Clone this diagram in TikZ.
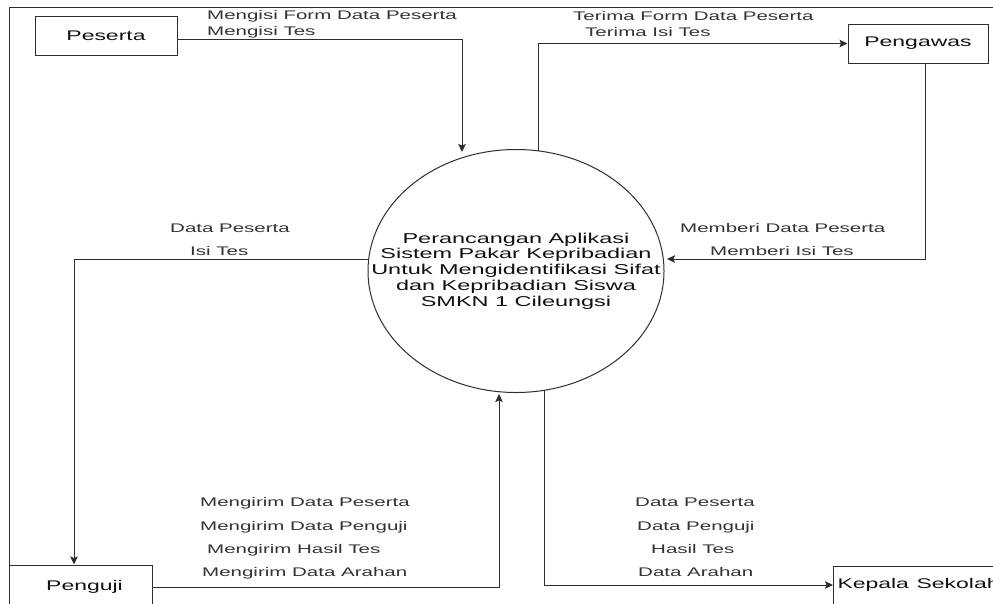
\documentclass[tikz,border=0pt]{standalone}
\usepackage{fontspec}
\setmainfont{Liberation Sans}
\usetikzlibrary{shapes.geometric,arrows.meta}
\definecolor{linegray}{HTML}{2E2E2E}
\definecolor{labelgray}{HTML}{333333}
\definecolor{textdark}{HTML}{111111}
\newcommand{\hstretch}[1]{\scalebox{1.64}[1]{#1}}
\newcommand{\lblfont}{\fontsize{12.5}{15}\selectfont}
\newcommand{\entfont}{\fontsize{14}{16}\selectfont}
\tikzset{
  ent/.style={draw=linegray, line width=1pt, rectangle, inner sep=0pt, text=textdark, font=\entfont},
  lbl/.style={anchor=base west, inner sep=0pt, text=labelgray, font=\lblfont},
  flow/.style={draw=linegray, line width=1pt, -{Stealth[length=8pt,width=7.5pt,inset=1.5pt]}},
  frameline/.style={draw=linegray, line width=1pt}
}
\begin{document}
\begin{tikzpicture}[x=1pt,y=-1pt]
\useasboundingbox (0,0) rectangle (993,603);
\clip (0,0) rectangle (993,603);
\fill[white] (0,0) rectangle (993,603);
% frame
\draw[frameline] (9,610) -- (9,7) -- (1000,7);
% entities
\node[ent, minimum width=142pt, minimum height=39pt] (peserta) at (106,35.5) {\hstretch{Peserta}};
\node[ent, minimum width=140pt, minimum height=39pt] (pengawas) at (918,43.5) {\hstretch{Pengawas}};
\node[ent, minimum width=143pt, minimum height=44pt] (penguji) at (80.5,587) {\hspace{8pt}\hstretch{Penguji}};
\node[ent, anchor=west, inner xsep=4pt, text width=172pt, align=left, minimum height=38pt] (kepala) at (833,585) {\hstretch{Kepala Sekolah}};
% process
\node[ellipse, draw=linegray, line width=1pt, minimum width=296pt, minimum height=243pt, inner sep=0pt] (proc) at (516,271) {};
\node[inner sep=0pt, text=textdark] (proctext) at (516,271.5) {\fontsize{14.3}{15.8}\selectfont\hstretch{\begin{tabular}{@{}c@{}}Perancangan Aplikasi\\ Sistem Pakar Kepribadian\\ Untuk Mengidentifikasi Sifat\\ dan Kepribadian Siswa\\ SMKN 1 Cileungsi\end{tabular}}};
% connector end points on the process border
\coordinate (pin1) at (462,152);
\coordinate (pout1) at (538,151);
\coordinate (pin2) at (667,259);
\coordinate (pout2) at (369,259);
\coordinate (pin3) at (499,394);
\coordinate (pout3) at (544,390);
% connectors
\draw[flow] ([yshift=-3.5pt]peserta.east) -| (pin1);
\draw[flow] (pout1) |- (pengawas.west);
\draw[flow] ([xshift=7pt]pengawas.south) |- (pin2);
\draw[flow] (pout2) -| ([xshift=-6.5pt]penguji.north);
\draw[flow] (penguji.east) -| (pin3);
\draw[flow] (pout3) |- (kepala.west);
% labels
\node[lbl] (l1a) at (207,19.3) {\hstretch{Mengisi Form Data Peserta}};
\node[lbl] (l1b) at (207,35) {\hstretch{Mengisi Tes}};
\node[lbl] (l2a) at (573,20) {\hstretch{Terima Form Data Peserta}};
\node[lbl] (l2b) at (585,36) {\hstretch{Terima Isi Tes}};
\node[lbl] (l3a) at (680,232.7) {\hstretch{Memberi Data Peserta}};
\node[lbl] (l3b) at (710,255.7) {\hstretch{Memberi Isi Tes}};
\node[lbl] (l4a) at (170,232.7) {\hstretch{Data Peserta}};
\node[lbl] (l4b) at (190,255.7) {\hstretch{Isi Tes}};
\node[lbl] (l5a) at (200,506.7) {\hstretch{Mengirim Data Peserta}};
\node[lbl] (l5b) at (200,530) {\hstretch{Mengirim Data Penguji}};
\node[lbl] (l5c) at (207,553.3) {\hstretch{Mengirim Hasil Tes}};
\node[lbl] (l5d) at (202,576.7) {\hstretch{Mengirim Data Arahan}};
\node[lbl] (l6a) at (635,506.7) {\hstretch{Data Peserta}};
\node[lbl] (l6b) at (637,530) {\hstretch{Data Penguji}};
\node[lbl] (l6c) at (651,553.3) {\hstretch{Hasil Tes}};
\node[lbl] (l6d) at (638,576.7) {\hstretch{Data Arahan}};
\end{tikzpicture}
\end{document}
